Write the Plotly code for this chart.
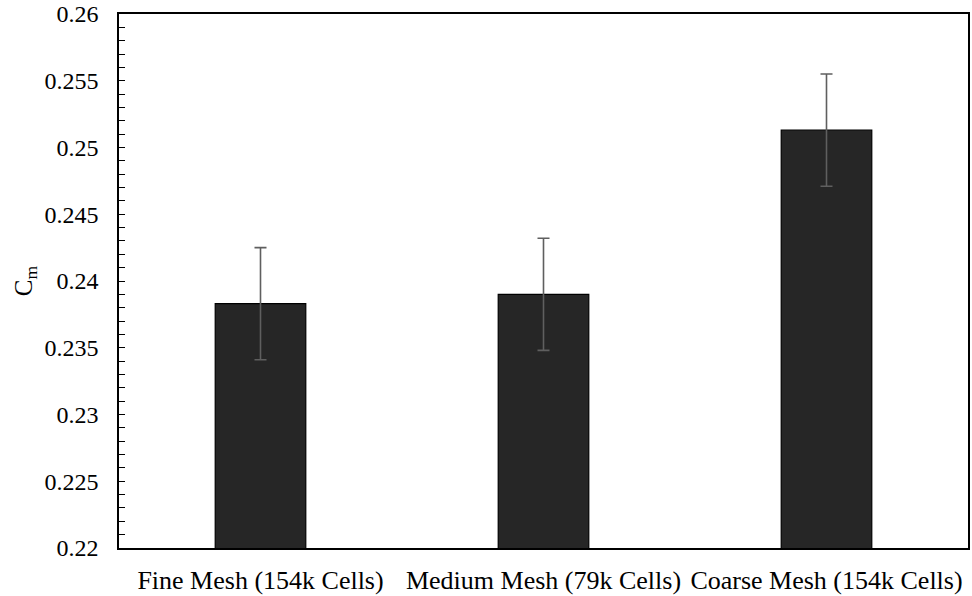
import plotly.graph_objects as go

# Moment coefficient from the mesh-independence study
categories = ["Fine Mesh (154k Cells)", "Medium Mesh (79k Cells)", "Coarse Mesh (154k Cells)"]
cm_values = [0.2383, 0.2390, 0.2513]
cm_errors = [0.0042, 0.0042, 0.0042]

y_tick_vals = [0.22, 0.225, 0.23, 0.235, 0.24, 0.245, 0.25, 0.255, 0.26]
y_tick_text = ["0.22", "0.225", "0.23", "0.235", "0.24", "0.245", "0.25", "0.255", "0.26"]

font_family = "Liberation Serif, Times New Roman, serif"

fig = go.Figure(
    go.Bar(
        x=categories,
        y=cm_values,
        marker=dict(color="#262626", line=dict(color="#000000", width=1.2)),
        error_y=dict(
            type="data",
            array=cm_errors,
            visible=True,
            color="#5f5f5f",
            thickness=1.6,
            width=6,
        ),
    )
)

fig.update_layout(
    width=972,
    height=596,
    margin=dict(l=119, r=4, t=14, b=48),
    paper_bgcolor="white",
    plot_bgcolor="white",
    bargap=0.68,
    showlegend=False,
    font=dict(family=font_family, size=24, color="#000000"),
)

fig.update_xaxes(
    showline=True,
    linecolor="#000000",
    linewidth=1.5,
    mirror=True,
    ticks="",
    showgrid=False,
    tickfont=dict(size=26),
    ticklabelstandoff=8,
    automargin=False,
)

fig.update_yaxes(
    range=[0.22, 0.26],
    tickvals=y_tick_vals,
    ticktext=y_tick_text,
    showline=True,
    linecolor="#000000",
    linewidth=1.5,
    mirror=True,
    ticks="inside",
    ticklen=6,
    tickwidth=1.2,
    tickcolor="#000000",
    minor=dict(dtick=0.001, ticks="inside", ticklen=6, tickwidth=1.2, tickcolor="#000000", showgrid=False),
    showgrid=False,
    zeroline=False,
    tickfont=dict(size=24),
    ticklabelstandoff=14,
    automargin=False,
    title=dict(text="C<sub>m</sub>", font=dict(size=25), standoff=5),
)

fig.write_html("out.html")
